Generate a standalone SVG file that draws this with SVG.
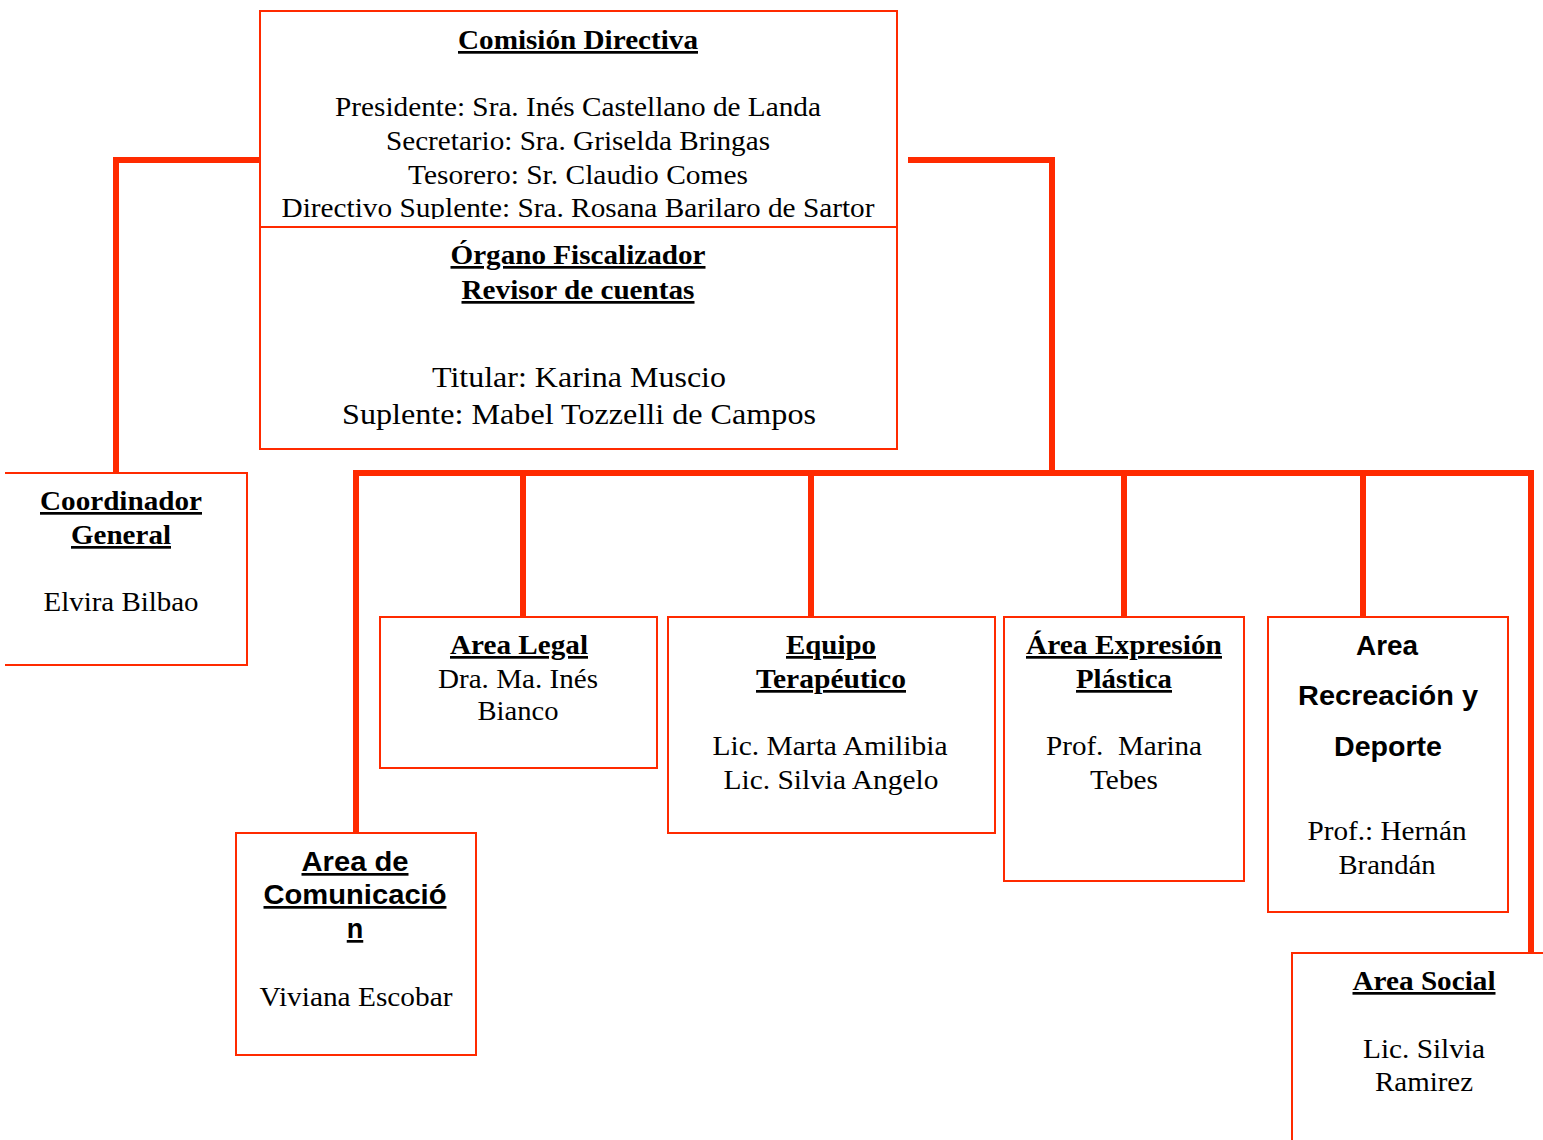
<svg xmlns="http://www.w3.org/2000/svg" width="1543" height="1140" viewBox="0 0 1543 1140">
<style>
.box{fill:#fff;stroke:#ff2a00;stroke-width:2}
.con{fill:none;stroke:#ff2a00;stroke-width:6;stroke-linecap:square}
.t{font-family:"Liberation Serif","Times New Roman",serif;font-size:27px;fill:#000;text-anchor:middle}
.tb{font-family:"Liberation Serif","Times New Roman",serif;font-size:27px;font-weight:bold;fill:#000;text-anchor:middle;text-decoration:underline}
.ab{font-family:"Liberation Sans",Arial,sans-serif;font-size:27px;font-weight:bold;fill:#000;text-anchor:middle}
.big{font-size:29px}
</style>
<defs>
<clipPath id="clipCD"><rect x="260" y="11" width="637" height="208"/></clipPath>
</defs>
<rect width="1543" height="1140" fill="#fff"/>
<g id="connectors">
<polyline class="con" points="260,160 116,160 116,473"/>
<polyline class="con" points="911,160 1052,160 1052,473"/>
<polyline class="con" points="356,833 356,473 1531,473 1531,953"/>
<line class="con" x1="523" y1="473" x2="523" y2="616"/>
<line class="con" x1="811" y1="473" x2="811" y2="616"/>
<line class="con" x1="1124" y1="473" x2="1124" y2="616"/>
<line class="con" x1="1363" y1="473" x2="1363" y2="616"/>
</g>
<g id="comision">
<rect class="box" x="260" y="11" width="637" height="216"/>
<text class="tb" x="578" y="49" textLength="240" lengthAdjust="spacingAndGlyphs">Comisión Directiva</text>
<g clip-path="url(#clipCD)">
<text class="t" x="578" y="116" textLength="486" lengthAdjust="spacingAndGlyphs">Presidente: Sra. Inés Castellano de Landa</text>
<text class="t" x="578" y="150" textLength="384" lengthAdjust="spacingAndGlyphs">Secretario: Sra. Griselda Bringas</text>
<text class="t" x="578" y="184" textLength="340" lengthAdjust="spacingAndGlyphs">Tesorero: Sr. Claudio Comes</text>
<text class="t" x="578" y="217" textLength="593" lengthAdjust="spacingAndGlyphs">Directivo Suplente: Sra. Rosana Barilaro de Sartor</text>
</g>
</g>
<g id="organo">
<rect class="box" x="260" y="227" width="637" height="222"/>
<text class="tb" x="578" y="264" textLength="255" lengthAdjust="spacingAndGlyphs">Órgano Fiscalizador</text>
<text class="tb" x="578" y="299" textLength="233" lengthAdjust="spacingAndGlyphs">Revisor de cuentas</text>
<text class="t big" x="579" y="387" textLength="294" lengthAdjust="spacingAndGlyphs">Titular: Karina Muscio</text>
<text class="t big" x="579" y="424" textLength="474" lengthAdjust="spacingAndGlyphs">Suplente: Mabel Tozzelli de Campos</text>
</g>
<g id="coordinador">
<path class="box" d="M5,473 H247 V665 H5"/>
<text class="tb" x="121" y="510" textLength="162" lengthAdjust="spacingAndGlyphs">Coordinador</text>
<text class="tb" x="121" y="544" textLength="100" lengthAdjust="spacingAndGlyphs">General</text>
<text class="t" x="121" y="611" textLength="155" lengthAdjust="spacingAndGlyphs">Elvira Bilbao</text>
</g>
<g id="legal">
<rect class="box" x="380" y="617" width="277" height="151"/>
<text class="tb" x="519" y="654" textLength="138" lengthAdjust="spacingAndGlyphs">Area Legal</text>
<text class="t" x="518" y="688" textLength="160" lengthAdjust="spacingAndGlyphs">Dra. Ma. Inés</text>
<text class="t" x="518" y="720" textLength="81" lengthAdjust="spacingAndGlyphs">Bianco</text>
</g>
<g id="terapeutico">
<rect class="box" x="668" y="617" width="327" height="216"/>
<text class="tb" x="831" y="654" textLength="90" lengthAdjust="spacingAndGlyphs">Equipo</text>
<text class="tb" x="831" y="688" textLength="150" lengthAdjust="spacingAndGlyphs">Terapéutico</text>
<text class="t" x="830" y="755" textLength="235" lengthAdjust="spacingAndGlyphs">Lic. Marta Amilibia</text>
<text class="t" x="831" y="789" textLength="215" lengthAdjust="spacingAndGlyphs">Lic. Silvia Angelo</text>
</g>
<g id="plastica">
<rect class="box" x="1004" y="617" width="240" height="264"/>
<text class="tb" x="1124" y="654" textLength="196" lengthAdjust="spacingAndGlyphs">Área Expresión</text>
<text class="tb" x="1124" y="688" textLength="96" lengthAdjust="spacingAndGlyphs">Plástica</text>
<text class="t" x="1124" y="755" textLength="156" lengthAdjust="spacingAndGlyphs" xml:space="preserve">Prof.  Marina</text>
<text class="t" x="1124" y="789" textLength="68" lengthAdjust="spacingAndGlyphs">Tebes</text>
</g>
<g id="recreacion">
<rect class="box" x="1268" y="617" width="240" height="295"/>
<text class="ab" x="1387" y="655" textLength="62" lengthAdjust="spacingAndGlyphs">Area</text>
<text class="ab" x="1388" y="705" textLength="180" lengthAdjust="spacingAndGlyphs">Recreación y</text>
<text class="ab" x="1388" y="756" textLength="108" lengthAdjust="spacingAndGlyphs">Deporte</text>
<text class="t" x="1387" y="840" textLength="159" lengthAdjust="spacingAndGlyphs">Prof.: Hernán</text>
<text class="t" x="1387" y="874" textLength="97" lengthAdjust="spacingAndGlyphs">Brandán</text>
</g>
<g id="social">
<rect class="box" x="1292" y="953" width="260" height="200"/>
<text class="tb" x="1424" y="990" textLength="143" lengthAdjust="spacingAndGlyphs">Area Social</text>
<text class="t" x="1424" y="1058" textLength="122" lengthAdjust="spacingAndGlyphs">Lic. Silvia</text>
<text class="t" x="1424" y="1091" textLength="98" lengthAdjust="spacingAndGlyphs">Ramirez</text>
</g>
<g id="comunicacion">
<rect class="box" x="236" y="833" width="240" height="222"/>
<text class="ab" x="355" y="871" text-decoration="underline" textLength="107" lengthAdjust="spacingAndGlyphs">Area de</text>
<text class="ab" x="355" y="904" text-decoration="underline" textLength="183" lengthAdjust="spacingAndGlyphs">Comunicació</text>
<text class="ab" x="355" y="938" text-decoration="underline">n</text>
<text class="t" x="356" y="1006" textLength="193" lengthAdjust="spacingAndGlyphs">Viviana Escobar</text>
</g>
</svg>
